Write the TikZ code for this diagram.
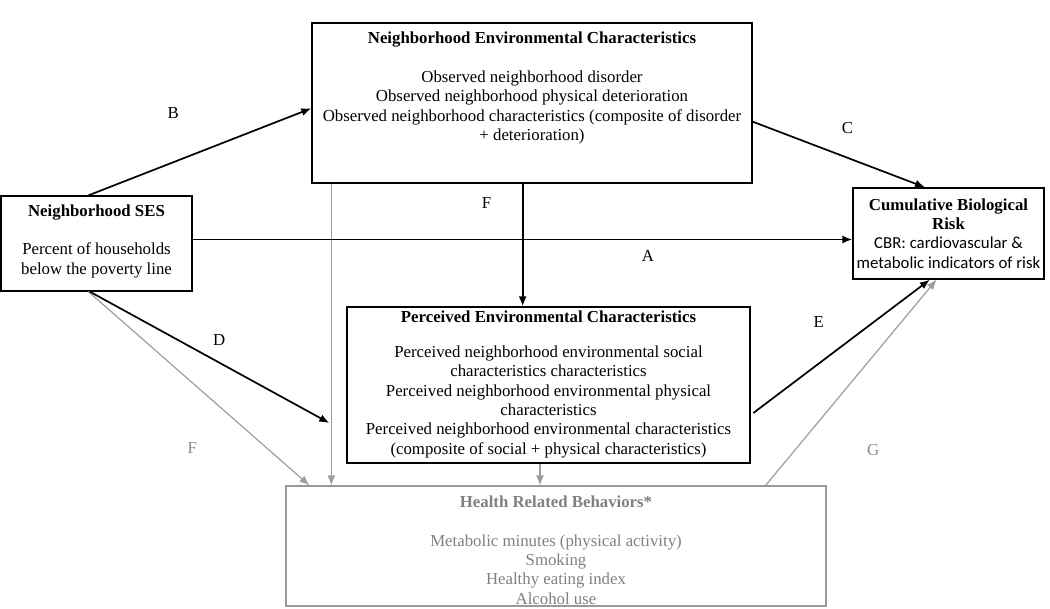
\documentclass[tikz,border=0pt]{standalone}
\usepackage{fontspec}
\setmainfont{Liberation Serif}
\newfontfamily\calibri{Carlito}
\usetikzlibrary{arrows.meta}
\tikzstyle{line} = [draw, -{Latex[length=7.5pt, width=6pt]}]

\begin{document}
\begin{tikzpicture}[x=0.75pt, y=-0.75pt,
   box/.style={rectangle, draw, line width=0.35mm, inner sep=0pt},
   greybox/.style={box, draw=black!40},
   words/.style={align=center, font=\fontsize{12.6pt}{14.5pt}\selectfont},
   greywords/.style={words, text=black!50},
   effect/.style={line, line width=0.45mm},
   greyeffect/.style={line, draw=black!38, line width=0.32mm},
   tag/.style={font=\fontsize{12.6pt}{14.5pt}\selectfont},
   greytag/.style={tag, text=black!45}]
\useasboundingbox (0,0) rectangle (1050,608);

\node[box, minimum width=330pt, minimum height=120pt] (nec) at (532,103) {};
\node[words] (nectext) at (532,88) {\textbf{Neighborhood Environmental Characteristics}\\[14.5pt]
  Observed neighborhood disorder\\
  Observed neighborhood physical deterioration\\
  Observed neighborhood characteristics (composite of disorder\\
  + deterioration)};

\node[box, minimum width=143.25pt, minimum height=71.25pt] (ses) at (96.5,243.5) {};
\node[words] (sestext) at (96.5,241) {\textbf{Neighborhood SES}\\[14.5pt]
  Percent of households\\below the poverty line};

\node[box, minimum width=143.25pt, minimum height=68.25pt] (cbr) at (948.5,233.5) {};
\node[words] (cbrtext) at (948.5,233.5) {\textbf{Cumulative Biological}\\\textbf{Risk}\\
  {\calibri CBR: cardiovascular \&}\\{\calibri metabolic indicators of risk}};

\node[box, minimum width=302.25pt, minimum height=117pt] (pec) at (548.5,385) {};
\node[words] (pectext) at (548.5,384) {\textbf{Perceived Environmental Characteristics}\\[12pt]
  Perceived neighborhood environmental social\\
  characteristics characteristics\\
  Perceived neighborhood environmental physical\\
  characteristics\\
  Perceived neighborhood environmental characteristics\\
  (composite of social + physical characteristics)};

\node[greybox, minimum width=405pt, minimum height=90pt] (hrb) at (556,546) {};
\node[greywords] (hrbtext) at (556,550) {\textbf{Health Related Behaviors*}\\[14.5pt]
  Metabolic minutes (physical activity)\\
  Smoking\\
  Healthy eating index\\
  Alcohol use};

% grey paths through behaviors
\path
	([xshift=-6pt]ses.south) edge[greyeffect] node[greytag, pos=.47, yshift=-49pt] (labf2) {F} ([xshift=18pt]hrb.north west)
	([xshift=15pt]nec.south west) edge[greyeffect] ([xshift=15pt]nec.south west |- hrb.north)
	([xshift=-6.4pt]pec.south) edge[greyeffect] ([xshift=-6.4pt]pec.south |- hrb.north)
	([xshift=-45.75pt]hrb.north east) edge[greyeffect] node[greytag, pos=.63, yshift=-71pt] (labg) {G} ([xshift=-9pt]cbr.south)
;

\path
	([xshift=-6pt]ses.north) edge[effect] node[tag, pos=.38, yshift=37pt] (laba) {B} ([yshift=-4pt]nec.west)
	([yshift=-14pt]nec.east) edge[effect] node[tag, pos=.55, yshift=22pt] (labc) {C} ([xshift=-17.6pt]cbr.north)
	([yshift=3pt]ses.east) edge[effect] node[tag, pos=.69, yshift=-12pt] (labb) {A} ([yshift=3pt]ses.east -| cbr.west)
	([xshift=-7pt]nec.south) edge[effect] node[tag, pos=.16, xshift=-27pt] (labf) {F} ([xshift=-7pt]nec.south |- pec.north)
	([xshift=-5pt]ses.south) edge[effect] node[tag, pos=.54, yshift=17pt] (labd) {D} ([xshift=-12.75pt, yshift=-28.5pt]pec.west)
	([xshift=2pt, yshift=-21pt]pec.east) edge[effect] node[tag, pos=.37, yshift=31pt] (labe) {E} ([xshift=-14pt]cbr.south)
;

\end{tikzpicture}
\end{document}
